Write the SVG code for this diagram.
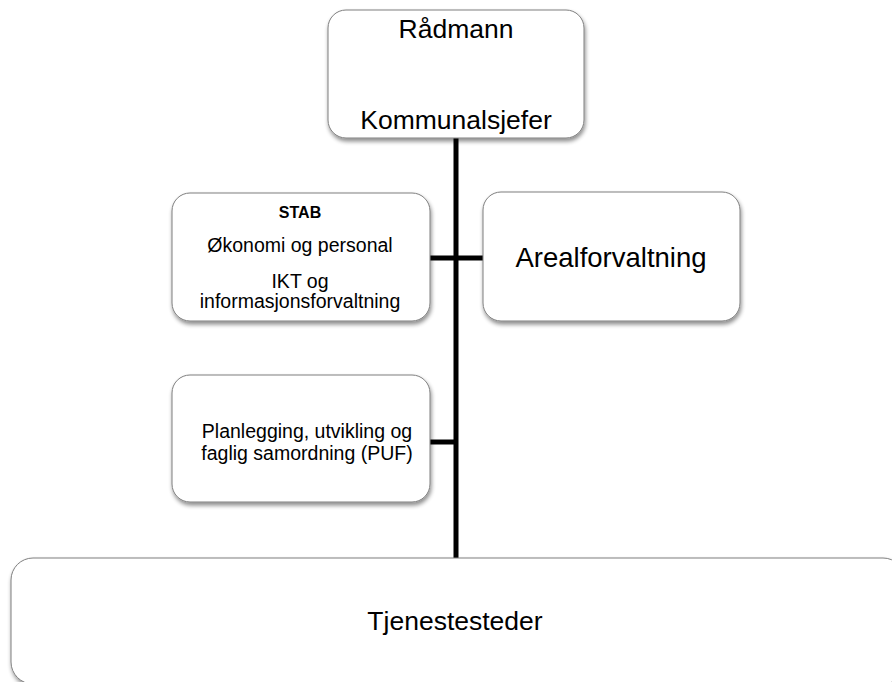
<svg xmlns="http://www.w3.org/2000/svg" width="892" height="682" viewBox="0 0 892 682">
<defs>
<filter id="sh" x="-10%" y="-10%" width="120%" height="130%">
<feGaussianBlur in="SourceAlpha" stdDeviation="2"/>
<feOffset dx="1" dy="3"/>
<feComponentTransfer><feFuncA type="linear" slope="0.45"/></feComponentTransfer>
<feMerge><feMergeNode/><feMergeNode in="SourceGraphic"/></feMerge>
</filter>
</defs>
<style>
.box{fill:#fff;stroke:#7f7f7f;stroke-width:1;filter:url(#sh)}
.t{font-family:"Liberation Sans",Arial,sans-serif;fill:#000;text-anchor:middle}
.big{font-size:26.5px}
.sm{font-size:19.5px}
.b{font-weight:bold;font-size:16px}
.ln{stroke:#000;stroke-width:5;fill:none}
</style>
<g id="connectors">
<line class="ln" x1="456" y1="138" x2="456" y2="559"/>
<line class="ln" x1="430" y1="258" x2="483" y2="258"/>
<line class="ln" x1="430" y1="442" x2="456" y2="442"/>
</g>
<g id="radmann">
<rect class="box" x="328" y="10" width="256" height="128" rx="18"/>
<text class="t big" x="456" y="38">Rådmann</text>
<text class="t big" x="456" y="129">Kommunalsjefer</text>
</g>
<g id="stab">
<rect class="box" x="172" y="193" width="258" height="128" rx="18"/>
<text class="t b" x="300" y="218">STAB</text>
<text class="t sm" x="300" y="252">Økonomi og personal</text>
<text class="t sm" x="300" y="288">IKT og</text>
<text class="t sm" x="300" y="308">informasjonsforvaltning</text>
</g>
<g id="areal">
<rect class="box" x="483" y="192" width="257" height="129" rx="18"/>
<text class="t big" x="611" y="267" style="font-size:27.5px">Arealforvaltning</text>
</g>
<g id="puf">
<rect class="box" x="172" y="375" width="258" height="127" rx="18"/>
<text class="t sm" x="307" y="438">Planlegging, utvikling og</text>
<text class="t sm" x="307" y="460">faglig samordning (PUF)</text>
</g>
<g id="tjenestesteder">
<rect class="box" x="11" y="558" width="894" height="126" rx="22"/>
<text class="t big" x="455" y="630">Tjenestesteder</text>
</g>
</svg>
